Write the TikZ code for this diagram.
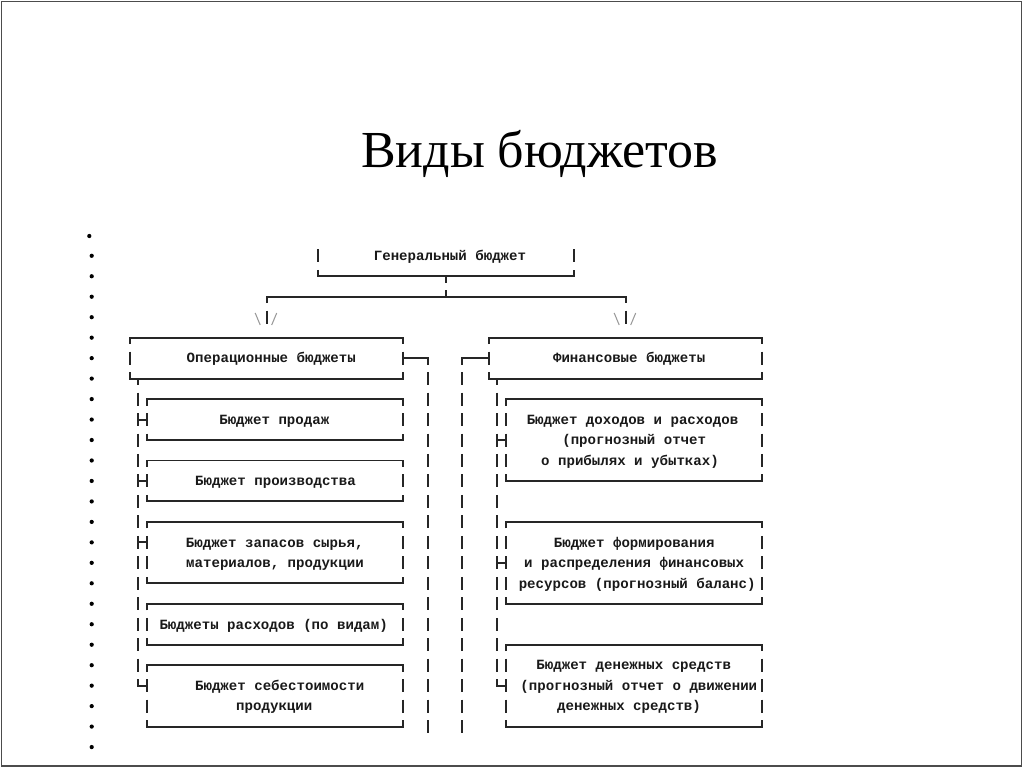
\documentclass[tikz,border=0pt]{standalone}
\usepackage{fontspec}
\setmainfont{Liberation Serif}
\newfontfamily\monof{Liberation Mono}
\usetikzlibrary{fit}
\newcommand{\asbox}[5]{%
  \node[boxn,fit={(#2,{ry(#4)}) (#3,{ry(#5)})}] (#1) {};
  \draw[ln] (#2,{ry(#4)+6.5}) -- (#2,{ry(#4)}) -- (#3,{ry(#4)}) -- (#3,{ry(#4)+6.5});
  \draw[ln] (#2,{ry(#5)-6.5}) -- (#2,{ry(#5)}) -- (#3,{ry(#5)}) -- (#3,{ry(#5)-6.5});
  \pgfmathtruncatemacro\asa{#4+1}\pgfmathtruncatemacro\asb{#5-1}%
  \foreach \rw in {\asa,...,\asb}{\draw[ln] (#2,{ry(\rw)-6.5}) -- ++(0,13) (#3,{ry(\rw)-6.5}) -- ++(0,13);}%
}
\newcommand{\vbars}[3]{% x, from row, to row
  \foreach \rw in {#2,...,#3}{\draw[ln] (#1,{ry(\rw)-6.5}) -- ++(0,13);}%
}
\begin{document}
\begin{tikzpicture}[x=0.5675pt,y=-0.5675pt,
  declare function={ry(\q)=235.3+20.47*\q;},
  ln/.style={draw=black!85,line width=1.1pt},
  sl/.style={draw=black!40,line width=0.6pt},
  txt/.style={font=\monof\bfseries\fontsize{8}{9}\selectfont,anchor=base,inner sep=0pt,text=black!90},
  boxn/.style={inner sep=0pt}]
\useasboundingbox (0,0) rectangle (1024,768);
\draw[black!70,line width=1.1pt] (1.5,1.5) rectangle (1021.5,766.3);

% title
\node[font=\fontsize{29.5}{32}\selectfont,anchor=base] (title) at (539.5,167.3) {Виды бюджетов};

% bullets
\fill (89.3,236) circle[radius=1.2pt];
\foreach \rw in {1,...,25}{\fill (91.7,{ry(\rw)}) circle[radius=1.2pt];}

% general budget
\node[boxn,fit={(318,{ry(0)}) (574,{ry(2)})}] (gen) {};
\vbars{318}{1}{1}
\vbars{574}{1}{1}
\draw[ln] (318,{ry(2)-6.5}) -- (318,{ry(2)}) -- (574,{ry(2)}) -- (574,{ry(2)-6.5});
\node[txt] (gen-t) at (450,{ry(1)+4.8}) {Генеральный бюджет};

% stem and split
\coordinate (split) at (446,{ry(3)});
\draw[ln] (gen.south) -- ++(0,6.5);
\draw[ln] (split) -- ++(0,-6.5);
\coordinate (splL) at (266.7,{ry(3)});
\coordinate (splR) at (625.7,{ry(3)});
\draw[ln] ([yshift=-6.5*0.5675pt]splL) -- (splL) -- (splR) -- ([yshift=-6.5*0.5675pt]splR);
\foreach \xx in {266.7,625.7}{
  \draw[ln] (\xx,{ry(4)-6.5}) -- ++(0,13);
  \draw[sl] (\xx-11.5,313) -- (\xx-6.5,325);
  \draw[sl] (\xx+5,325) -- (\xx+10,313);
}

% level 1 boxes
\asbox{op}{130}{403.3}{5}{7}
\node[txt] (op-t) at (271.3,{ry(6)+4.8}) {Операционные бюджеты};
\asbox{fin}{489.3}{761.7}{5}{7}
\node[txt] (fin-t) at (629.2,{ry(6)+4.8}) {Финансовые бюджеты};

% side connectors
\coordinate (opR) at (428.3,{ry(6)});
\draw[ln] (op.east) -- (opR) -- ++(0,6.5);
\vbars{428.3}{7}{24}
\coordinate (finL) at (461.7,{ry(6)});
\draw[ln] (fin.west) -- (finL) -- ++(0,6.5);
\vbars{461.7}{7}{24}

% left children
\asbox{prod}{146.7}{403.3}{8}{10}
\node[txt] (prod-t) at (274.3,{ry(9)+4.8}) {Бюджет продаж};
\asbox{proizv}{146.7}{403.3}{11}{13}
\node[txt] (proizv-t) at (275.5,{ry(12)+4.8}) {Бюджет производства};
\asbox{zapas}{146.7}{403.3}{14}{17}
\node[txt] (zapas-t1) at (274.7,{ry(15)+4.8}) {Бюджет запасов сырья,};
\node[txt] (zapas-t2) at (275,{ry(16)+4.8}) {материалов, продукции};
\asbox{rashod}{146.7}{403.3}{18}{20}
\node[txt] (rashod-t) at (273.7,{ry(19)+4.8}) {Бюджеты расходов (по видам)};
\asbox{sebest}{146.7}{403.3}{21}{24}
\node[txt] (sebest-t1) at (279.7,{ry(22)+4.8}) {Бюджет себестоимости};
\node[txt] (sebest-t2) at (274.3,{ry(23)+4.8}) {продукции};

% left trunk
\coordinate (ltop) at (138.3,{ry(7)});
\draw[ln] (ltop) -- ++(0,6.5);
\vbars{138.3}{8}{21}
\draw[ln] (138.3,{ry(22)-6.5}) -- (138.3,{ry(22)}) -- (146.7,{ry(22)});
\foreach \rw in {9,12,15}{\draw[ln] (138.3,{ry(\rw)}) -- (146.7,{ry(\rw)});}

% right children
\asbox{dohod}{505.7}{761.7}{8}{12}
\node[txt] (dohod-t1) at (632.5,{ry(9)+4.8}) {Бюджет доходов и расходов};
\node[txt] (dohod-t2) at (634.2,{ry(10)+4.8}) {(прогнозный отчет};
\node[txt] (dohod-t3) at (630,{ry(11)+4.8}) {о прибылях и убытках)};
\asbox{form}{505.7}{761.7}{14}{18}
\node[txt] (form-t1) at (634.2,{ry(15)+4.8}) {Бюджет формирования};
\node[txt] (form-t2) at (634.2,{ry(16)+4.8}) {и распределения финансовых};
\node[txt] (form-t3) at (637.2,{ry(17)+4.8}) {ресурсов (прогнозный баланс)};
\asbox{den}{505.7}{761.7}{20}{24}
\node[txt] (den-t1) at (633.7,{ry(21)+4.8}) {Бюджет денежных средств};
\node[txt] (den-t2) at (638.8,{ry(22)+4.8}) {(прогнозный отчет о движении};
\node[txt] (den-t3) at (629,{ry(23)+4.8}) {денежных средств)};

% right trunk
\coordinate (rtop) at (496.7,{ry(7)});
\draw[ln] (rtop) -- ++(0,6.5);
\vbars{496.7}{8}{21}
\draw[ln] (496.7,{ry(22)-6.5}) -- (496.7,{ry(22)}) -- (505.7,{ry(22)});
\foreach \rw in {10,16}{\draw[ln] (496.7,{ry(\rw)}) -- (505.7,{ry(\rw)});}
\end{tikzpicture}
\end{document}
